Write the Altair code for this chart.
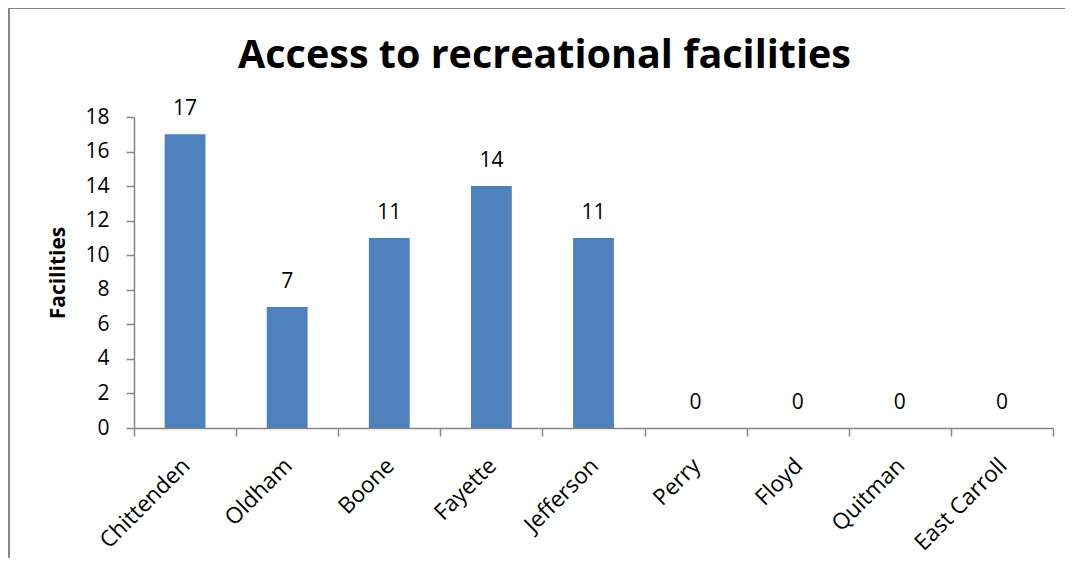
import altair as alt
import pandas as pd

counties = ["Chittenden", "Oldham", "Boone", "Fayette", "Jefferson",
            "Perry", "Floyd", "Quitman", "East Carroll"]
facilities = [17, 7, 11, 14, 11, 0, 0, 0, 0]
y_ticks = [0, 2, 4, 6, 8, 10, 12, 14, 16, 18]

df = pd.DataFrame({"County": counties, "Facilities": facilities})

FONT = "Open Sans"
AXIS_GRAY = "#868686"

x_enc = alt.X(
    "County:N", sort=counties, title=None,
    scale=alt.Scale(paddingInner=0, paddingOuter=0),
    axis=alt.Axis(labelAngle=-45, labelFontSize=22.5, labelFont=FONT, labelColor="black",
                  domainColor=AXIS_GRAY, tickColor=AXIS_GRAY, tickSize=8, tickWidth=1.5,
                  domainWidth=1.5, tickBand="extent", labelPadding=18, labelOffset=-7,
                  labelOverlap=False),
)
y_enc = alt.Y(
    "Facilities:Q", title="Facilities",
    scale=alt.Scale(domain=[0, 18], nice=False),
    axis=alt.Axis(values=y_ticks, grid=False, labelFontSize=21, labelFont=FONT,
                  labelColor="black", domainColor=AXIS_GRAY, tickColor=AXIS_GRAY,
                  tickSize=8, tickWidth=1.5, domainWidth=1.5, labelPadding=17,
                  labelOverlap=False, labelBound=False,
                  titleFont=FONT, titleFontSize=21, titleFontWeight="bold",
                  titleColor="black", titlePadding=16),
)

base = alt.Chart(df).encode(x=x_enc, y=y_enc)
bars = base.mark_bar(color="#4F81BD", width=alt.RelativeBandSize(0.4))
labels = base.mark_text(baseline="bottom", dy=-15, fontSize=21, font=FONT, color="black").encode(
    text=alt.Text("Facilities:Q"),
)
frame_left = alt.Chart(df).mark_rule(color=AXIS_GRAY, strokeWidth=2).encode(
    x=alt.value(-125), y=alt.value(-109), y2=alt.value(450))
frame_top = alt.Chart(df).mark_rule(color=AXIS_GRAY, strokeWidth=2).encode(
    x=alt.value(-125), x2=alt.value(950), y=alt.value(-109))

chart = alt.layer(bars, labels, frame_left, frame_top).properties(
    width=919, height=311,
    background="white",
    title=alt.TitleParams("Access to recreational facilities", font=FONT, fontSize=39.5,
                          fontWeight="bold", color="black", anchor="middle", dx=-49, offset=-69),
    autosize=alt.AutoSizeParams(type="none"),
    padding={"left": 126, "top": 109, "right": 12, "bottom": 130},
).configure_view(strokeWidth=0, stroke="transparent")

chart.save("out.html", embed_options={"renderer": "svg", "actions": False})
